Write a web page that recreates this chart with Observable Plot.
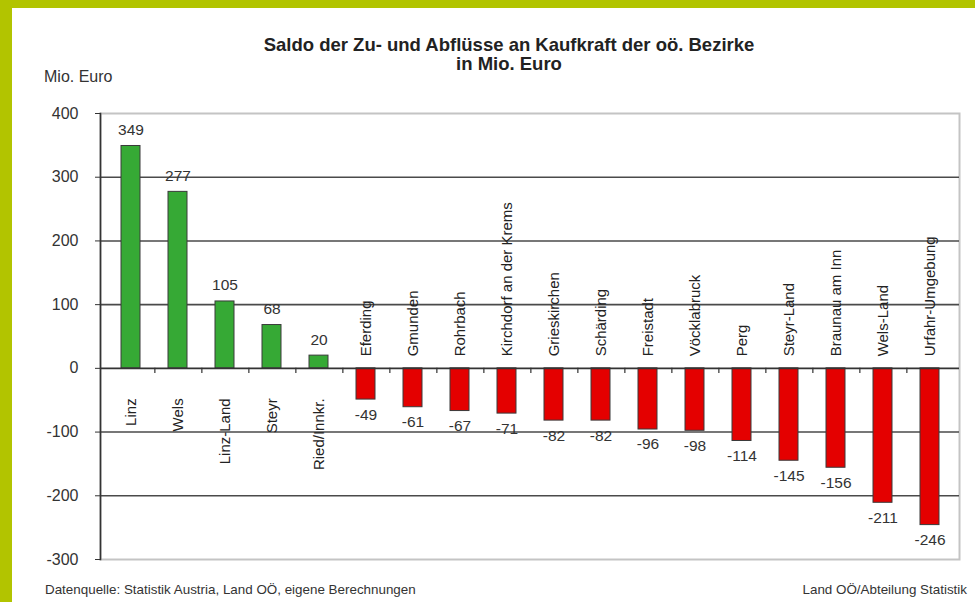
<!DOCTYPE html>
<html>
<head>
<meta charset="utf-8">
<script src="https://cdn.jsdelivr.net/npm/d3@7"></script>
<script src="https://cdn.jsdelivr.net/npm/@observablehq/plot@0.6"></script>
<style>
  html, body { margin: 0; padding: 0; background: #fff; }
  #wrap { position: relative; width: 975px; height: 602px; overflow: hidden; background: #fff; font-family: "Liberation Sans", Arial, sans-serif; }
  #bandTop { position: absolute; left: 0; top: 0; width: 975px; height: 8px; background: #b2c400; }
  #bandLeft { position: absolute; left: 0; top: 0; width: 12px; height: 602px; background: #b2c400; }
  .t { position: absolute; white-space: nowrap; color: #222; }
  #title { left: 509px; top: 34px; transform: translateX(-50%); font-weight: bold; font-size: 18.5px; line-height: 21px; }
  #subtitle { left: 509px; top: 53px; transform: translateX(-50%); font-weight: bold; font-size: 18.5px; line-height: 21px; }
  #unit { left: 44px; top: 68px; font-size: 16px; line-height: 18px; color: #333; }
  #src { left: 45px; top: 582px; font-size: 13.4px; line-height: 16px; color: #333; }
  #credit { right: 8px; top: 582px; font-size: 13.4px; line-height: 16px; color: #333; }
  #chart { position: absolute; left: 0; top: 0; }
</style>
</head>
<body>
<div id="wrap">
  <div id="chart"></div>
  <div id="bandTop"></div>
  <div id="bandLeft"></div>
  <div class="t" id="title">Saldo der Zu- und Abflüsse an Kaufkraft der oö. Bezirke</div>
  <div class="t" id="subtitle">in Mio. Euro</div>
  <div class="t" id="unit">Mio. Euro</div>
  <div class="t" id="src">Datenquelle: Statistik Austria, Land OÖ, eigene Berechnungen</div>
  <div class="t" id="credit">Land OÖ/Abteilung Statistik</div>
</div>
<script>
const categories = ["Linz", "Wels", "Linz-Land", "Steyr", "Ried/Innkr.", "Eferding", "Gmunden", "Rohrbach", "Kirchdorf an der Krems", "Grieskirchen", "Schärding", "Freistadt", "Vöcklabruck", "Perg", "Steyr-Land", "Braunau am Inn", "Wels-Land", "Urfahr-Umgebung"];
const values = [349, 277, 105, 68, 20, -49, -61, -67, -71, -82, -82, -96, -98, -114, -145, -156, -211, -246];
const yTicks = [-300, -200, -100, 0, 100, 200, 300, 400];
const gridLines = [-200, -100, 100, 200, 300];

const data = categories.map((name, i) => ({name, value: values[i]}));
const pos = data.filter(d => d.value >= 0);
const neg = data.filter(d => d.value < 0);

const W = 975, H = 602, ML = 100, MR = 16, MT = 113, MB = 43;
const step = (W - ML - MR) / categories.length;

const green = "#36a935", red = "#e40000";
const font = "'Liberation Sans', Arial, sans-serif";

const chart = Plot.plot({
  width: W,
  height: H,
  marginLeft: ML,
  marginRight: MR,
  marginTop: MT,
  marginBottom: MB,
  style: {fontFamily: font, fontSize: "15px", color: "#333", background: "transparent"},
  x: {domain: categories, paddingInner: 0.6, paddingOuter: 0.3, axis: null},
  y: {domain: [-300, 400], ticks: yTicks, label: null},
  marks: [
    Plot.frame({stroke: "#c4c4c4", strokeWidth: 2}),
    Plot.ruleY(gridLines, {stroke: "#4a4a4a", strokeWidth: 1.6}),
    Plot.barY(data, {x: "name", y: "value", fill: d => d.value >= 0 ? green : red, stroke: "#3a3a3a", strokeWidth: 1}),
    Plot.ruleY([0], {stroke: "#333", strokeWidth: 1.6}),
    Plot.ruleX(categories.slice(0, -1), {x: d => d, y1: 0, y2: -8, dx: step / 2, stroke: "#333", strokeWidth: 1.2}),
    Plot.frame({anchor: "left", stroke: "#333", strokeWidth: 1.6}),
    Plot.axisY({ticks: yTicks, tickSize: 5, tickPadding: 17, tickFormat: d => String(d), stroke: "#333", fill: "#333", fontSize: 16, label: null}),
    Plot.text(pos, {x: "name", y: "value", text: d => String(d.value), dy: -16, fill: "#333", fontSize: 15.5}),
    Plot.text(neg, {x: "name", y: "value", text: d => String(d.value), dy: 15, fill: "#333", fontSize: 15.5}),
    Plot.text(pos, {x: "name", y: () => 0, text: "name", rotate: -90, textAnchor: "end", lineAnchor: "middle", dy: 30, fill: "#222", fontSize: 15}),
    Plot.text(neg, {x: "name", y: () => 0, text: "name", rotate: -90, textAnchor: "start", lineAnchor: "middle", dy: -12, fill: "#222", fontSize: 15})
  ]
});
document.getElementById("chart").appendChild(chart);
</script>
</body>
</html>
